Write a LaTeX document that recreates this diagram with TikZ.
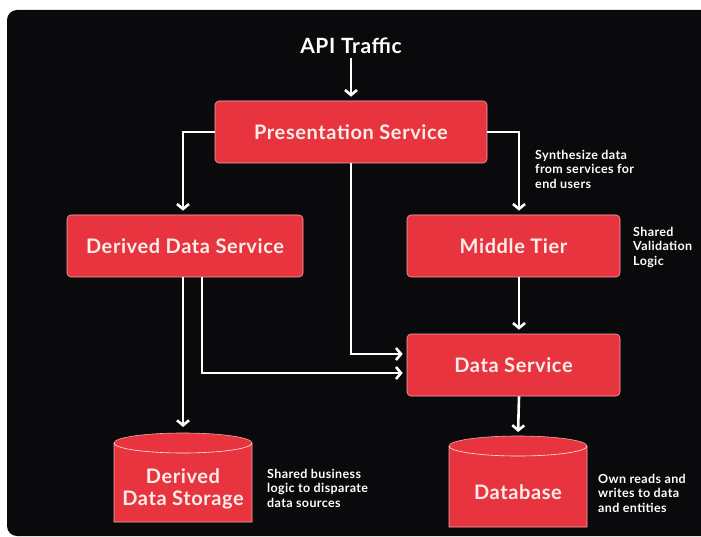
\documentclass[tikz,border=0pt]{standalone}
\usepackage{fontspec}
\setmainfont{Lato}
\newfontfamily\widelato[LetterSpace=3]{Lato}
\usetikzlibrary{arrows.meta}

\definecolor{bg}{HTML}{0A0A0D}
\definecolor{boxred}{HTML}{E8343F}
\definecolor{boxedge}{HTML}{F3A7A9}
\definecolor{ink}{HTML}{FBEEEA}

\tikzset{
  svcbox/.style={rectangle, rounded corners=4pt, fill=boxred, draw=boxedge,
    line width=0.6pt, minimum height=62pt, text=ink,
    font=\widelato\fontsize{20}{22}\selectfont\bfseries},
  dblabel/.style={align=center, text=ink, inner sep=0pt,
    font=\widelato\fontsize{20}{22}\selectfont\bfseries},
  note/.style={align=left, anchor=west, inner sep=0pt, text=white,
    font=\widelato\fontsize{12.5}{14.5}\selectfont\bfseries},
  arr/.style={draw=white, line width=2.6pt,
    -{Straight Barb[length=5pt,width=12pt,line width=2.6pt]},
    shorten >=4pt},
  cylfill/.style={fill=boxred, draw=boxedge, line width=0.6pt},
  cylrim/.style={draw=ink, line width=0.6pt}
}

\begin{document}
\begin{tikzpicture}[x=1pt,y=-1pt]
  \useasboundingbox (0,0) rectangle (701,537);
  \clip (0,0) rectangle (701,537);
  \fill[white] (0,0) rectangle (701,537);
  \fill[bg, rounded corners=10pt] (7,10) rectangle (730,536);

  % title
  \node[text=white, font=\widelato\fontsize{21}{24}\selectfont\bfseries, inner sep=2pt]
    (api) at (351,46) {API Traffic};

  % services
  \node[svcbox, minimum width=272pt] (pres) at (351,132) {Presentation Service};
  \node[svcbox, minimum width=236pt] (dds) at (185,246) {Derived Data Service};
  \node[svcbox, minimum width=213pt] (mid) at (513.5,246) {Middle Tier};
  \node[svcbox, minimum width=213pt] (ds) at (513.5,365) {Data Service};

  % derived data storage cylinder
  \path[cylfill] (114,443) -- (114,522) -- (252,522) -- (252,443)
    arc[start angle=0, end angle=180, x radius=69pt, y radius=10pt] -- cycle;
  \draw[cylrim] (252,443) arc[start angle=0, end angle=-180, x radius=69pt, y radius=10pt];
  \coordinate (dstop) at (183,433);
  \node[dblabel] (dstore) at (183,489) {Derived\\Data Storage};

  % database cylinder
  \path[cylfill] (449,446) -- (449,527) -- (587,527) -- (587,446)
    arc[start angle=0, end angle=180, x radius=69pt, y radius=10pt] -- cycle;
  \draw[cylrim] (587,446) arc[start angle=0, end angle=-180, x radius=69pt, y radius=10pt];
  \coordinate (dbtop) at (518,436);
  \node[dblabel] (db) at (518,492) {Database};

  % helper columns
  \coordinate (colr) at (519,0);
  \coordinate (coll) at (183,0);
  \coordinate (colm) at (202,0);

  % connectors
  \draw[arr, shorten <=2pt] (api.south) -- (pres.north);
  \draw[arr] (pres.west) -| (dds.north -| coll);
  \draw[arr] (pres.east) -| (mid.north -| colr);
  \draw[arr] (pres.south) |- ([yshift=11pt]ds.west);
  \draw[arr] (dds.south -| colm) |- ([yshift=-8pt]ds.west);
  \draw[arr, shorten >=6pt] (dds.south -| coll) -- (dstop);
  \draw[arr] (mid.south -| colr) -- (ds.north -| colr);
  \draw[arr] (ds.south -| colr) -- (dbtop);

  % notes
  \node[note] (n1) at (535,169) {Synthesize data\\from services for\\end users};
  \node[note] (n2) at (633,247) {Shared\\Validation\\Logic};
  \node[note] (n3) at (267,488) {Shared business\\logic to disparate\\data sources};
  \node[note] (n4) at (598,493) {Own reads and\\writes to data\\and entities};
\end{tikzpicture}
\end{document}
